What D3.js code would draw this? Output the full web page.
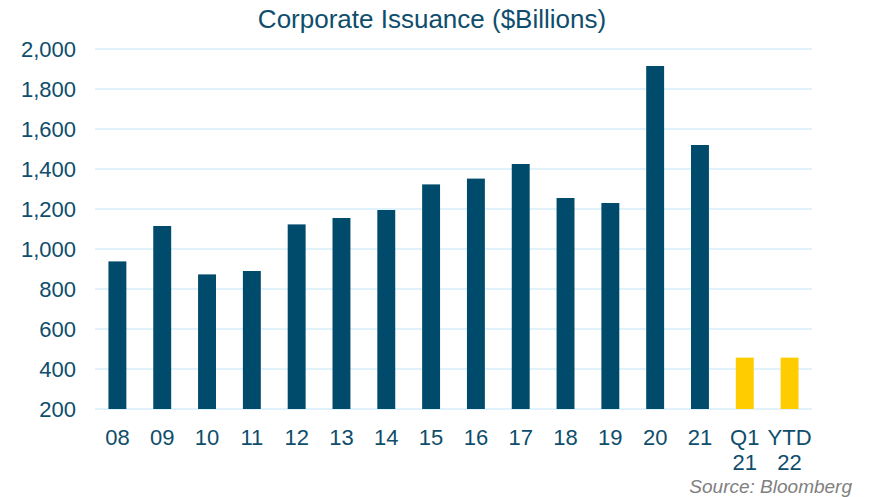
<!DOCTYPE html>
<html>
<head>
<meta charset="utf-8">
<script src="https://cdn.jsdelivr.net/npm/d3@7"></script>
<style>
  body { margin: 0; background: #fff; }
  svg { display: block; font-family: "Liberation Sans", Arial, sans-serif; }
</style>
</head>
<body>
<svg id="chart"></svg>
<script>
// chart data
const categories = ['08', '09', '10', '11', '12', '13', '14', '15', '16', '17', '18', '19', '20', '21', 'Q1 21', 'YTD 22'];
const issuance = [938, 1115, 873, 890, 1123, 1155, 1195, 1323, 1352, 1425, 1255, 1230, 1915, 1520, 457, 457];
const highlight = ['Q1 21', 'YTD 22'];
const yTicks = [200, 400, 600, 800, 1000, 1200, 1400, 1600, 1800, 2000];

const width = 871;
const height = 497;
const margin = { top: 49, right: 59, bottom: 88, left: 95 };

const navy = '#004b6c';
const gold = '#ffcc00';
const textColor = '#0e4d6b';

const svg = d3.select('#chart')
  .attr('width', width)
  .attr('height', height);

const x = d3.scaleBand()
  .domain(categories)
  .range([margin.left, width - margin.right])
  .paddingInner(0.6)
  .paddingOuter(0.3);

const y = d3.scaleLinear()
  .domain([200, 2000])
  .range([height - margin.bottom, margin.top]);

// gridlines
svg.append('g')
  .selectAll('line')
  .data(yTicks)
  .enter()
  .append('line')
  .attr('x1', margin.left)
  .attr('x2', width - margin.right)
  .attr('y1', d => y(d))
  .attr('y2', d => y(d))
  .attr('stroke', '#d6eefa')
  .attr('stroke-width', 1.5);

// y axis labels
const yAxis = svg.append('g')
  .attr('transform', `translate(${margin.left - 19},0)`)
  .call(d3.axisLeft(y).tickValues(yTicks).tickSize(0).tickPadding(0).tickFormat(d3.format(',')));
yAxis.select('.domain').remove();
yAxis.selectAll('text')
  .attr('fill', textColor)
  .style('font-size', '22px')
  .style('font-family', '"Liberation Sans", Arial, sans-serif');

// bars
svg.append('g')
  .selectAll('rect')
  .data(categories.map((c, i) => ({ label: c, value: issuance[i] })))
  .enter()
  .append('rect')
  .attr('x', d => x(d.label))
  .attr('width', x.bandwidth())
  .attr('y', d => y(d.value))
  .attr('height', d => y(200) - y(d.value))
  .attr('fill', d => highlight.includes(d.label) ? gold : navy);

// x labels, split into two lines where needed
const xl = svg.append('g')
  .selectAll('text')
  .data(categories)
  .enter()
  .append('text')
  .attr('x', d => x(d) + x.bandwidth() / 2)
  .attr('y', 445)
  .attr('text-anchor', 'middle')
  .attr('fill', textColor)
  .style('font-size', '22px');
xl.each(function (d) {
  const parts = d.split(' ');
  const t = d3.select(this);
  parts.forEach((p, i) => {
    t.append('tspan')
      .attr('x', x(d) + x.bandwidth() / 2)
      .attr('dy', i === 0 ? 0 : 25)
      .text(p);
  });
});

// title
svg.append('text')
  .attr('x', 432)
  .attr('y', 28)
  .attr('text-anchor', 'middle')
  .attr('fill', textColor)
  .style('font-size', '26px')
  .text('Corporate Issuance ($Billions)');

// source note
svg.append('text')
  .attr('x', 852)
  .attr('y', 493)
  .attr('text-anchor', 'end')
  .attr('fill', '#808080')
  .style('font-size', '19px')
  .style('font-style', 'italic')
  .text('Source: Bloomberg');
</script>
</body>
</html>
